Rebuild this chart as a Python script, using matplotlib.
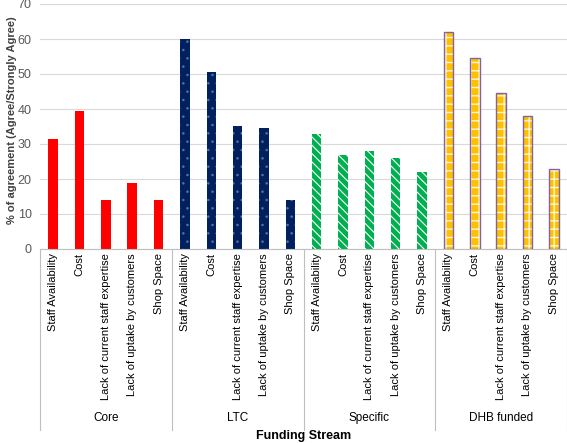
import matplotlib
matplotlib.use("Agg")
import matplotlib.pyplot as plt
import matplotlib.transforms as mtransforms
import numpy as np

groups = ["Core", "LTC", "Specific", "DHB funded"]
categories = ["Staff Availability", "Cost", "Lack of current staff expertise",
              "Lack of uptake by customers", "Shop Space"]
core = [31.5, 39.5, 14, 19, 14]
ltc = [60, 50.5, 35, 34.5, 14]
specific = [33, 27, 28, 26, 22]
dhb = [62, 54.5, 44.5, 38, 23]
series = [core, ltc, specific, dhb]

face = ["#FF0000", "#002060", "#00B050", "#FFC000"]
hatch = [None, "..", "\\\\\\\\", "++"]
hatch_col = [None, "#5A6E9A", "#FFFFFF", "#FFF6D8"]
hatch_lw = [1, 0.6, 0.8, 1.0]
edge = [None, None, None, "#8064A2"]

plt.rcParams["font.family"] = ["Liberation Sans", "DejaVu Sans"]

fig = plt.figure(figsize=(5.67, 4.43), dpi=100)
ax = fig.add_axes([40 / 567, 1 - 249 / 443, 527 / 567, 245 / 443])

ncat = len(categories)
width = 0.36
for gi, vals in enumerate(series):
    x = np.arange(ncat) + gi * ncat
    ax.bar(x, vals, width, color=face[gi], linewidth=0, zorder=2)
    if hatch[gi]:
        plt.rcParams["hatch.linewidth"] = hatch_lw[gi]
        ax.bar(x, vals, width, facecolor="none", edgecolor=hatch_col[gi],
               hatch=hatch[gi], linewidth=0, zorder=3)
    if edge[gi]:
        ax.bar(x, vals, width, facecolor="none", edgecolor=edge[gi],
               linewidth=1.0, zorder=4)

n = ncat * len(groups)
ax.set_xlim(-0.5, n - 0.5)
ax.set_ylim(0, 70)
ax.set_yticks(range(0, 71, 10))
ax.tick_params(axis="y", length=0, labelsize=9, colors="#595959", pad=6)
ax.yaxis.grid(True, color="#D9D9D9", linewidth=0.8, zorder=0)
ax.set_axisbelow(True)
for s in ["left", "right", "top"]:
    ax.spines[s].set_visible(False)
ax.spines["bottom"].set_color("#BFBFBF")

ax.set_xticks(np.arange(n))
ax.set_xticklabels(categories * len(groups), rotation=90, fontsize=8)
ax.tick_params(axis="x", length=0, pad=3)

ax.set_ylabel("% of agreement (Agree/Strongly Agree)", fontsize=8,
              fontweight="bold", color="#404040")
ax.yaxis.set_label_coords(-0.044, 0.525)

trans = mtransforms.blended_transform_factory(ax.transData, ax.transAxes)
for gi in range(len(groups) + 1):
    xb = gi * ncat - 0.5
    ax.plot([xb, xb], [0, -0.739], transform=trans, color="#BFBFBF",
            linewidth=0.8, clip_on=False)
for gi, g in enumerate(groups):
    ax.text(gi * ncat + (ncat - 1) / 2, -0.689, g, transform=trans,
            ha="center", va="center", fontsize=8.5)

fig.text(0.5 * (40 + 567) / 567, 1 - 436 / 443, "Funding Stream",
         ha="center", va="center", fontsize=9, fontweight="bold")

fig.savefig("out.png", dpi=100)
